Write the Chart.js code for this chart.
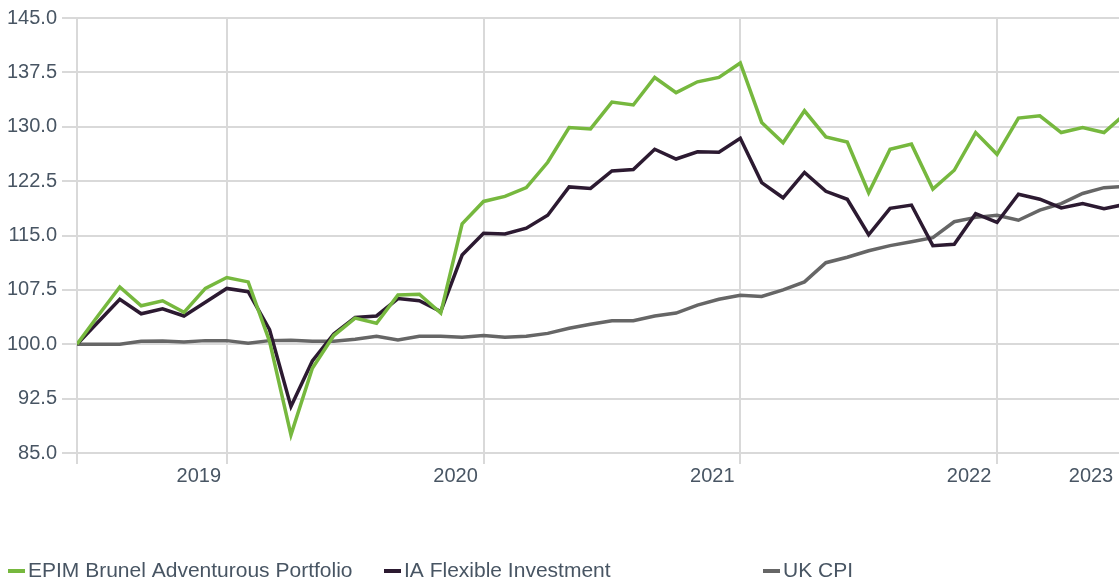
<!DOCTYPE html>
<html>
<head>
<meta charset="utf-8">
<title>EPIM Brunel Adventurous Portfolio</title>
<script src="https://cdn.jsdelivr.net/npm/chart.js@4.4.1/dist/chart.umd.min.js"></script>
<style>
html, body { margin: 0; padding: 0; background: #fff; }
#wrap { width: 1119px; height: 580px; position: relative; }
</style>
</head>
<body>
<div id="wrap"><canvas id="perfChart"></canvas></div>
<script>
// month-end points, index 0 = Jun 2018
var months = ['Jun 2018','Jul 2018','Aug 2018','Sep 2018','Oct 2018','Nov 2018','Dec 2018',
  'Jan 2019','Feb 2019','Mar 2019','Apr 2019','May 2019','Jun 2019','Jul 2019','Aug 2019','Sep 2019','Oct 2019','Nov 2019','Dec 2019',
  'Jan 2020','Feb 2020','Mar 2020','Apr 2020','May 2020','Jun 2020','Jul 2020','Aug 2020','Sep 2020','Oct 2020','Nov 2020','Dec 2020',
  'Jan 2021','Feb 2021','Mar 2021','Apr 2021','May 2021','Jun 2021','Jul 2021','Aug 2021','Sep 2021','Oct 2021','Nov 2021','Dec 2021',
  'Jan 2022','Feb 2022','Mar 2022','Apr 2022','May 2022','Jun 2022','Jul 2022'];

var epim = [100.0, 104.0, 107.9, 105.3, 106.0, 104.4, 107.7, 109.2, 108.6, 100.4,
            87.5, 96.7, 101.2, 103.6, 102.9, 106.8, 106.9, 104.3, 116.6, 119.7,
            120.4, 121.6, 125.1, 129.9, 129.7, 133.4, 133.0, 136.8, 134.7, 136.2,
            136.8, 138.8, 130.6, 127.8, 132.2, 128.6, 127.9, 120.9, 126.9, 127.6,
            121.4, 124.0, 129.2, 126.2, 131.2, 131.5, 129.2, 129.9, 129.2, 131.8];

var iaFlex = [100.0, 103.1, 106.2, 104.2, 104.9, 103.9, 105.8, 107.7, 107.25, 102.0,
              91.4, 97.7, 101.4, 103.7, 103.9, 106.3, 106.0, 104.5, 112.3, 115.3,
              115.2, 116.0, 117.8, 121.7, 121.5, 123.9, 124.1, 126.9, 125.55, 126.55,
              126.5, 128.4, 122.3, 120.2, 123.7, 121.1, 120.0, 115.1, 118.75, 119.2,
              113.6, 113.8, 118.0, 116.8, 120.7, 120.0, 118.8, 119.4, 118.7, 119.3];

var ukCpi = [100.0, 100.0, 100.0, 100.4, 100.45, 100.3, 100.5, 100.5, 100.15, 100.5,
             100.55, 100.4, 100.4, 100.7, 101.1, 100.6, 101.1, 101.1, 100.95, 101.2,
             100.95, 101.1, 101.5, 102.2, 102.75, 103.25, 103.25, 103.9, 104.3, 105.4,
             106.2, 106.75, 106.6, 107.5, 108.6, 111.25, 112.0, 112.9, 113.6, 114.15,
             114.7, 116.9, 117.5, 117.8, 117.1, 118.5, 119.4, 120.8, 121.6, 121.8];

var seriesNames = ['EPIM Brunel Adventurous Portfolio', 'IA Flexible Investment', 'UK CPI'];
var seriesColors = ['#76b83e', '#2c1a31', '#666666'];

// x ticks: start, year starts, and the clamped "2023" label at the right edge
var yearTicks = [0, 7, 19, 31, 43, 48.7];
var yearLabels = ['', '2019', '2020', '2021', '2022', '2023'];

var textColor = '#485563';
var gridColor = '#d9d9d9';
var fontFamily = "'Liberation Sans', Arial, sans-serif";

Chart.defaults.font.family = fontFamily;
Chart.defaults.font.size = 20;
Chart.defaults.color = textColor;

function toPoints(values) {
    return values.map(function (v, i) { return { x: i, y: v }; });
}

// legend with fixed item slots, drawn under the axis
const fixedLegend = {
    id: 'fixedLegend',
    afterDraw(chart, args, opts) {
        const ctx = chart.ctx;
        ctx.save();
        ctx.font = '21px ' + fontFamily;
        ctx.textBaseline = 'middle';
        ctx.textAlign = 'left';
        chart.data.datasets.forEach(function (ds, i) {
            const x = opts.x[i];
            ctx.fillStyle = ds.borderColor;
            ctx.fillRect(x, opts.y - 2, 17, 4);
            ctx.fillStyle = textColor;
            ctx.fillText(ds.label, x + 20, opts.y);
        });
        ctx.restore();
    }
};

var ctx = document.getElementById('perfChart');

var perfChart = new Chart(ctx, {
    type: 'line',
    data: {
        labels: months,
        datasets: [
            { label: seriesNames[0], data: toPoints(epim), borderColor: seriesColors[0], backgroundColor: seriesColors[0] },
            { label: seriesNames[1], data: toPoints(iaFlex), borderColor: seriesColors[1], backgroundColor: seriesColors[1] },
            { label: seriesNames[2], data: toPoints(ukCpi), borderColor: seriesColors[2], backgroundColor: seriesColors[2] }
        ]
    },
    options: {
        responsive: true,
        maintainAspectRatio: false,
        animation: false,
        layout: {
            padding: { top: 18, left: 0, right: 0, bottom: 87 }
        },
        elements: {
            point: { radius: 0, hoverRadius: 4 },
            line: { borderWidth: 3.5, tension: 0, fill: false }
        },
        interaction: { mode: 'index', intersect: false },
        plugins: {
            legend: { display: false },
            tooltip: {
                callbacks: {
                    title: function (items) { return months[items[0].dataIndex]; }
                }
            },
            fixedLegend: { x: [8, 384, 763], y: 571 }
        },
        scales: {
            x: {
                type: 'linear',
                min: 0,
                max: 48.7,
                afterBuildTicks: function (scale) {
                    scale.ticks = yearTicks.map(function (v) { return { value: v }; });
                },
                afterFit: function (scale) {
                    scale.height = 40;
                    scale.paddingLeft = 0;
                    scale.paddingRight = 0;
                },
                ticks: {
                    autoSkip: false,
                    maxRotation: 0,
                    labelOffset: -28,
                    padding: 0,
                    callback: function (value, index) { return yearLabels[index]; }
                },
                grid: {
                    color: function (c) {
                        return (c.tick && c.tick.value > 48) ? 'rgba(0,0,0,0)' : gridColor;
                    },
                    lineWidth: 2,
                    tickLength: 11
                },
                border: { display: false }
            },
            y: {
                min: 85,
                max: 145,
                afterFit: function (scale) { scale.width = 77; },
                ticks: {
                    stepSize: 7.5,
                    padding: 5,
                    callback: function (value) { return Number(value).toFixed(1); }
                },
                grid: {
                    color: gridColor,
                    lineWidth: 2,
                    tickLength: 15
                },
                border: { display: false }
            }
        }
    },
    plugins: [fixedLegend]
});
</script>
</body>
</html>
